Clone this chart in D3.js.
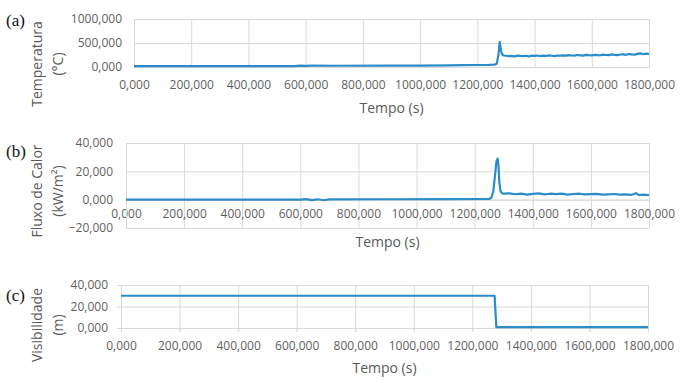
<!DOCTYPE html>
<html lang="pt">
<head>
<meta charset="utf-8">
<title>Temperatura, fluxo de calor e visibilidade</title>
<script src="https://d3js.org/d3.v7.min.js"></script>
<style>
  body { margin: 0; background: #fff; }
  svg { display: block; }
  .tick text { fill: #5f5f5f; font-family: "Open Sans", sans-serif; font-size: 12px; }
  .grid line { stroke: #d9d9d9; stroke-width: 1; }
  .grid path { display: none; }
  .lbl { fill: #595959; font-family: "Open Sans", sans-serif; font-size: 14px; }
  .tag { fill: #111; font-family: "Liberation Serif", serif; font-size: 17px; }
</style>
</head>
<body>
<div id="chart"></div>
<script>
// Data (time in s)
const tempTime = [0, 300, 560, 580, 600, 620, 700, 900, 1000, 1100, 1150, 1200, 1240, 1260, 1268, 1274, 1278, 1281, 1284, 1288, 1292,
  1300, 1310, 1320, 1330, 1340, 1350, 1360, 1370, 1380, 1390, 1400, 1410, 1420, 1430, 1440, 1450, 1460, 1470, 1480, 1490,
  1500, 1510, 1520, 1530, 1540, 1550, 1560, 1570, 1580, 1590, 1600, 1610, 1620, 1630, 1640, 1650, 1660, 1670, 1680, 1690,
  1700, 1710, 1720, 1730, 1740, 1750, 1760, 1770, 1780, 1790, 1800];
const tempValue = [20, 20, 20, 28, 24, 30, 26, 27, 28, 32, 38, 42, 45, 50, 70, 260, 520, 420, 300, 255, 240,
  235, 228, 232, 222, 238, 230, 226, 234, 220, 236, 232, 240, 228, 236, 230, 242, 234, 226, 240, 238,
  244, 236, 248, 240, 236, 250, 244, 238, 252, 246, 242, 254, 248, 244, 258, 250, 246, 262, 254, 248,
  260, 266, 254, 270, 262, 258, 272, 284, 266, 278, 270];

const fluxTime = [0, 300, 600, 620, 640, 660, 680, 700, 900, 1100, 1250, 1258, 1264, 1270, 1275, 1279, 1282, 1285, 1289, 1294,
  1300, 1320, 1340, 1360, 1380, 1400, 1420, 1440, 1460, 1480, 1500, 1520, 1540, 1560, 1580, 1600, 1620, 1640, 1660,
  1680, 1700, 1720, 1740, 1755, 1765, 1780, 1800];
const fluxValue = [0, 0, 0, 0.4, -0.3, 0.3, -0.4, 0.2, 0.3, 0.4, 0.5, 1.5, 6, 17, 27, 29, 24, 12, 6, 4.5,
  4.2, 4.5, 3.8, 4.3, 3.6, 4.1, 4.4, 3.7, 4.2, 3.9, 4.3, 3.6, 4.0, 4.2, 3.7, 3.9, 4.1, 3.5, 3.8,
  4.0, 3.6, 3.8, 3.4, 4.6, 3.3, 3.5, 3.2];

const visTime = [0, 1276, 1282, 1800];
const visValue = [30, 30, 0.8, 0.8];

const xTicks = [0, 200, 400, 600, 800, 1000, 1200, 1400, 1600, 1800];

const panels = [
  { tag: "(a)", label: ["Temperatura", "(°C)"], t: tempTime, v: tempValue,
    xDomain: [0, 1800], yDomain: [0, 1000], yTicks: [0, 500, 1000] },
  { tag: "(b)", label: ["Fluxo de Calor", "(kW/m²)"], t: fluxTime, v: fluxValue,
    xDomain: [0, 1800], yDomain: [-20, 40], yTicks: [-20, 0, 20, 40] },
  { tag: "(c)", label: ["Visibilidade", "(m)"], t: visTime, v: visValue,
    xDomain: [0, 1800], yDomain: [0, 40], yTicks: [0, 20, 40] }
];

// Layout per panel
const layout = [
  { x0: 134, x1: 649, yTop: 19, yBot: 67, xPad: 13, yPad: 12, tick: 0, tagY: 20, labY: 64, titleY: 108 },
  { x0: 126, x1: 649, yTop: 143, yBot: 228, xPad: 10, yPad: 13, tick: 0, tagY: 151, labY: 191, titleY: 242 },
  { x0: 121, x1: 648, yTop: 285, yBot: 328, xPad: 9, yPad: 9, tick: 4, tagY: 295, labY: 325, titleY: 368 }
];

const width = 683, height = 383;
const fmt = d3.formatLocale({ decimal: ",", thousands: ".", grouping: [3], currency: ["", ""] }).format(".3f");

const svg = d3.select("#chart").append("svg")
  .attr("width", width)
  .attr("height", height);

panels.forEach((p, i) => {
  const L = layout[i];
  const g = svg.append("g");

  const x = d3.scaleLinear().domain(p.xDomain).range([L.x0, L.x1]);
  const y = d3.scaleLinear().domain(p.yDomain).range([L.yBot, L.yTop]);

  // gridlines
  g.append("g").attr("class", "grid")
    .attr("transform", `translate(0,${L.yBot + L.tick})`)
    .call(d3.axisBottom(x).tickValues(xTicks).tickSize(-(L.yBot - L.yTop) - L.tick).tickFormat(""));
  g.append("g").attr("class", "grid")
    .attr("transform", `translate(${L.x0},0)`)
    .call(d3.axisLeft(y).tickValues(p.yTicks).tickSize(-(L.x1 - L.x0)).tickFormat(""));

  // x axis (labels sit under the zero line)
  const xa = g.append("g")
    .attr("transform", `translate(0,${y(0)})`)
    .call(d3.axisBottom(x).tickValues(xTicks).tickSize(L.tick).tickPadding(L.xPad).tickFormat(fmt));
  xa.select(".domain").attr("stroke", "#d9d9d9");
  xa.selectAll(".tick line").attr("stroke", "#d9d9d9");

  // y axis
  const ya = g.append("g")
    .attr("transform", `translate(${L.x0},0)`)
    .call(d3.axisLeft(y).tickValues(p.yTicks).tickSize(L.tick).tickPadding(L.yPad).tickFormat(fmt));
  ya.select(".domain").attr("stroke", "#d9d9d9");
  ya.selectAll(".tick line").attr("stroke", "#d9d9d9");

  // series line
  const line = d3.line().x((d, k) => x(p.t[k])).y(d => y(d));
  g.append("path")
    .datum(p.v)
    .attr("fill", "none")
    .attr("stroke", "#2a8cca")
    .attr("stroke-width", 2.2)
    .attr("stroke-linejoin", "round")
    .attr("d", line);

  // x axis title
  g.append("text").attr("class", "lbl")
    .attr("x", (L.x0 + L.x1) / 2)
    .attr("y", L.titleY)
    .attr("dy", "0.35em")
    .attr("text-anchor", "middle")
    .text("Tempo (s)");

  // y axis title (two lines)
  p.label.forEach((s, k) => {
    g.append("text").attr("class", "lbl")
      .attr("transform", `translate(${37 + k * 21},${L.labY}) rotate(-90)`)
      .attr("dy", "0.35em")
      .attr("text-anchor", "middle")
      .text(s);
  });

  // panel tag
  g.append("text").attr("class", "tag")
    .attr("x", 6)
    .attr("y", L.tagY)
    .attr("dy", "0.35em")
    .text(p.tag);
});
</script>
</body>
</html>
